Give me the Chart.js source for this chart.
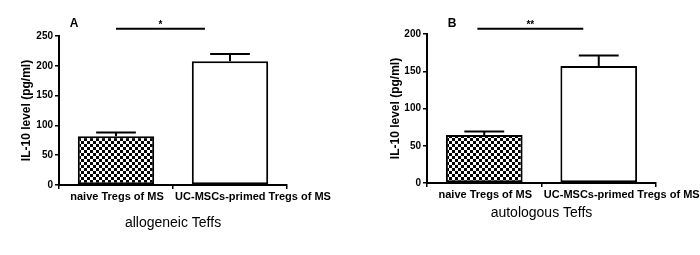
<!DOCTYPE html>
<html>
<head>
<meta charset="utf-8">
<script src="https://cdn.jsdelivr.net/npm/chart.js@4"></script>
<style>
  body { margin: 0; background: #fff; }
  .painel { position: absolute; top: 0; width: 350px; height: 255px; }
</style>
</head>
<body>
<div class="painel" style="left:0"><canvas id="chartA" width="350" height="255"></canvas></div>
<div class="painel" style="left:350px"><canvas id="chartB" width="350" height="255"></canvas></div>
<script>
// Dados
const categorias = ['naive Tregs of MS', 'UC-MSCs-primed Tregs of MS'];
const valoresAlo = [82, 207.5];
const errosAlo = [6, 12.5];
const valoresAuto = [64.5, 157];
const errosAuto = [4.5, 14];
const ticksAlo = [0, 50, 100, 150, 200, 250];
const ticksAuto = [0, 50, 100, 150, 200];

const fonte = 'Arial, "Liberation Sans", sans-serif';

// Padrão xadrez da primeira barra
function padraoXadrez() {
  const c = document.createElement('canvas');
  c.width = 6; c.height = 6;
  const g = c.getContext('2d');
  g.fillStyle = '#fff';
  g.fillRect(0, 0, 6, 6);
  g.fillStyle = '#000';
  g.fillRect(0, 0, 3, 3);
  g.fillRect(3, 3, 3, 3);
  return g.createPattern(c, 'repeat');
}

// Barras de erro, rótulos do eixo x, linha de significância e letra do painel
const extras = {
  id: 'extras',
  afterDatasetsDraw(chart, args, opts) {
    const ctx = chart.ctx;
    const x = chart.scales.x, y = chart.scales.y;
    const meta = chart.getDatasetMeta(0);
    ctx.save();
    ctx.strokeStyle = '#000';
    ctx.fillStyle = '#000';
    ctx.lineWidth = 2;
    meta.data.forEach((bar, i) => {
      const v = chart.data.datasets[0].data[i];
      const topo = y.getPixelForValue(v + opts.erros[i]);
      const meia = bar.width * 0.26;
      ctx.beginPath();
      ctx.moveTo(bar.x, bar.y);
      ctx.lineTo(bar.x, topo);
      ctx.moveTo(bar.x - meia, topo);
      ctx.lineTo(bar.x + meia, topo);
      ctx.stroke();
    });
    // rótulos das categorias (o segundo fica deslocado à direita, como no original)
    ctx.font = 'bold 11px ' + fonte;
    ctx.textAlign = 'center';
    ctx.textBaseline = 'middle';
    chart.data.labels.forEach((rot, i) => {
      ctx.fillText(rot, x.getPixelForValue(i) + (i === 1 ? 23 : 1), y.bottom + 12);
    });
    // linha de significância
    const s = opts.sig;
    const ys = y.getPixelForValue(s.y);
    const x1 = x.getPixelForValue(s.de), x2 = x.getPixelForValue(s.ate);
    ctx.beginPath();
    ctx.moveTo(x1, ys);
    ctx.lineTo(x2, ys);
    ctx.stroke();
    ctx.font = 'bold 10px ' + fonte;
    ctx.textBaseline = 'alphabetic';
    ctx.fillText(s.texto, (x1 + x2) / 2, ys - 1);
    // letra do painel
    ctx.font = 'bold 12px ' + fonte;
    ctx.textBaseline = 'middle';
    ctx.fillText(opts.letra, chart.chartArea.left + opts.letraDx, 24);
    ctx.restore();
  }
};

function criarGrafico(id, valores, erros, ticks, cfg) {
  const eixo = { display: true, color: '#000', width: 2 };
  const grade = { drawOnChartArea: false, drawTicks: true, tickLength: 4, color: '#000', lineWidth: 1.5 };
  return new Chart(document.getElementById(id), {
    type: 'bar',
    data: {
      labels: categorias,
      datasets: [{
        data: valores,
        backgroundColor: [padraoXadrez(), '#fff'],
        borderColor: '#000',
        borderWidth: 2,
        borderSkipped: false,
        barPercentage: 0.67,
        categoryPercentage: 1
      }]
    },
    options: {
      responsive: false,
      animation: false,
      devicePixelRatio: 1,
      layout: { padding: { left: 0, right: cfg.direita, top: cfg.topo, bottom: 0 } },
      plugins: {
        legend: { display: false },
        tooltip: { enabled: false },
        extras: { erros: erros, sig: cfg.sig, letra: cfg.letra, letraDx: cfg.letraDx }
      },
      scales: {
        x: {
          border: eixo,
          grid: grade,
          ticks: { display: false },
          title: { display: true, text: cfg.tituloX, color: '#000', font: { family: fonte, size: 14 }, padding: { top: 0, bottom: cfg.padTituloX } },
          afterFit(scale) { scale.height = 255 - cfg.base; }
        },
        y: {
          min: 0,
          max: ticks[ticks.length - 1],
          border: eixo,
          grid: grade,
          afterBuildTicks(scale) { scale.ticks = ticks.map(v => ({ value: v })); },
          ticks: { color: '#000', font: { family: fonte, size: 10, weight: 'bold' }, padding: 2 },
          title: { display: true, text: 'IL-10 level (pg/ml)', color: '#000', font: { family: fonte, size: 12, weight: 'bold' }, padding: { top: cfg.padTituloY, bottom: 0 } },
          afterFit(scale) { scale.width = cfg.larguraY; }
        }
      }
    },
    plugins: [extras]
  });
}

// Painel A - allogeneic Teffs
criarGrafico('chartA', valoresAlo, errosAlo, ticksAlo, {
  tituloX: 'allogeneic Teffs', padTituloX: 23, base: 185, topo: 36, direita: 63,
  larguraY: 59, padTituloY: 19, letra: 'A', letraDx: 15,
  sig: { de: 0, ate: 0.78, y: 262, texto: '*' }
});

// Painel B - autologous Teffs
criarGrafico('chartB', valoresAuto, errosAuto, ticksAuto, {
  tituloX: 'autologous Teffs', padTituloX: 33, base: 183, topo: 34, direita: 44,
  larguraY: 77, padTituloY: 38, letra: 'B', letraDx: 25,
  sig: { de: -0.06, ate: 0.865, y: 207, texto: '**' }
});
</script>
</body>
</html>
